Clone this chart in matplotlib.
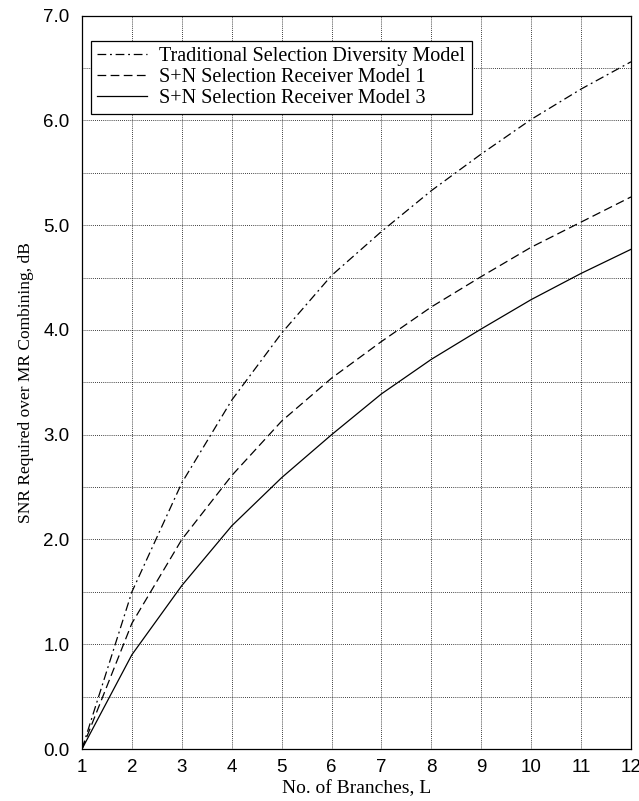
import matplotlib
matplotlib.use("Agg")
import matplotlib.pyplot as plt
import numpy as np

branches = [1, 2, 3, 4, 5, 6, 7, 8, 9, 10, 11, 12]
traditional = [0.0, 1.50, 2.54, 3.33, 3.97, 4.52, 4.94, 5.33, 5.68, 6.01, 6.30, 6.56]
model1 = [0.0, 1.20, 2.00, 2.61, 3.13, 3.54, 3.89, 4.22, 4.51, 4.79, 5.03, 5.27]
model3 = [0.0, 0.90, 1.56, 2.13, 2.59, 3.00, 3.39, 3.72, 4.01, 4.29, 4.54, 4.77]
labels = ["Traditional Selection Diversity Model",
          "S+N Selection Receiver Model 1",
          "S+N Selection Receiver Model 3"]
xticks = list(range(1, 13))
yticks = [0, 1, 2, 3, 4, 5, 6, 7]

fig = plt.figure(figsize=(6.39, 8.01), dpi=100)
ax = fig.add_axes([0.1283, 0.0649, 0.9875 - 0.1283, 0.9804 - 0.0649])

serif = ["Liberation Serif", "DejaVu Serif"]
sans = ["Liberation Sans", "DejaVu Sans"]

ax.plot(branches, traditional, color="black", lw=0.9, dashes=(7, 3, 1.5, 3), label=labels[0])
ax.plot(branches, model1, color="black", lw=0.9, dashes=(7, 3.5), label=labels[1])
ax.plot(branches, model3, color="black", lw=0.9, label=labels[2])

ax.set_xlim(1, 12)
ax.set_ylim(0, 7)
ax.set_xticks(xticks)
ax.set_yticks(yticks)
ax.set_yticks(np.arange(0, 7.01, 0.5), minor=True)
ax.set_xticklabels([str(t) for t in xticks], fontfamily=sans, fontsize=13.5)
ax.set_yticklabels(["%.1f" % t for t in yticks], fontfamily=sans, fontsize=13.5)
ax.tick_params(which="both", direction="in", length=0)
ax.tick_params(axis="y", pad=9)
ax.tick_params(axis="x", pad=7)

ax.grid(True, which="major", axis="x", color="black", linestyle=(0, (1, 1.5)), lw=0.6)
ax.grid(True, which="both", axis="y", color="black", linestyle=(0, (1, 1.5)), lw=0.6)

for s in ax.spines.values():
    s.set_color("black")
    s.set_linewidth(0.9)

ax.set_xlabel("No. of Branches, L", fontfamily=serif, fontsize=14, labelpad=3)
ax.set_ylabel("SNR Required over MR Combining, dB", fontfamily=serif, fontsize=12.5, labelpad=7)

leg = ax.legend(loc="upper left", bbox_to_anchor=(0.0164, 0.966), borderaxespad=0,
                prop={"family": serif, "size": 14.5}, fancybox=False, framealpha=1,
                edgecolor="black", handlelength=2.5, handletextpad=0.6,
                labelspacing=0.1, borderpad=0.3)
leg.get_frame().set_linewidth(0.9)

fig.savefig("out.png", dpi=100)
